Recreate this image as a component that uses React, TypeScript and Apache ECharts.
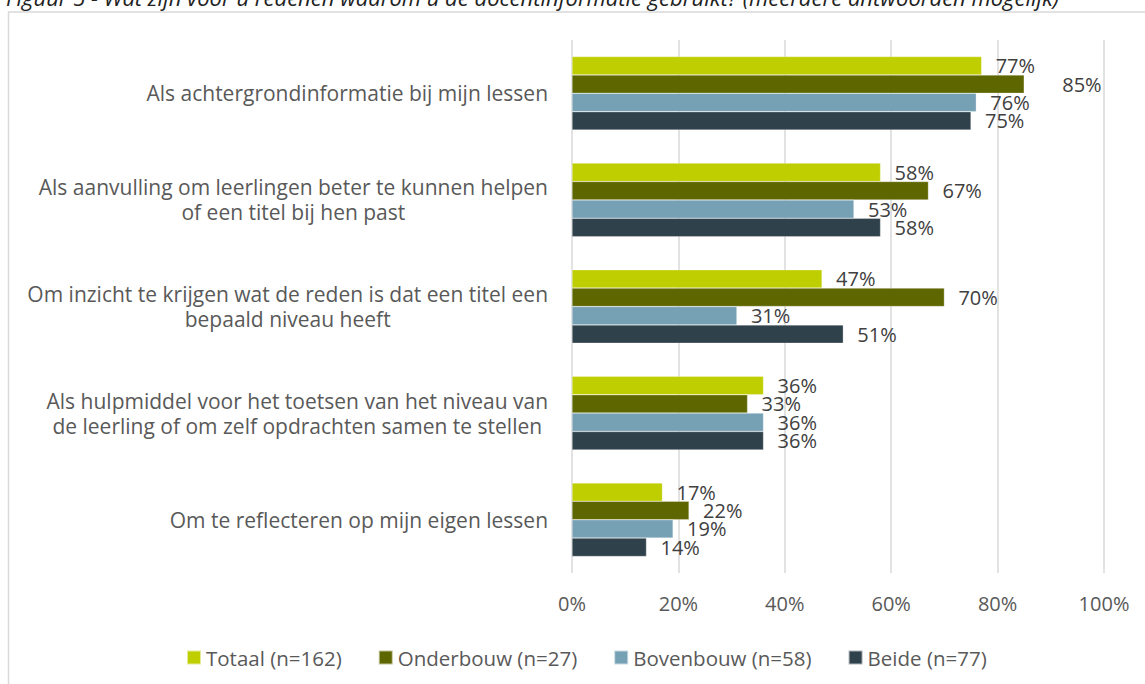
import React, { useEffect, useRef } from "react";
import * as echarts from "echarts";

const categories = [
  "Als achtergrondinformatie bij mijn lessen",
  "Als aanvulling om leerlingen beter te kunnen helpen\nof een titel bij hen past",
  "Om inzicht te krijgen wat de reden is dat een titel een\nbepaald niveau heeft",
  "Als hulpmiddel voor het toetsen van het niveau van\nde leerling of om zelf opdrachten samen te stellen",
  "Om te reflecteren op mijn eigen lessen",
];

const seriesNames = ["Totaal (n=162)", "Onderbouw (n=27)", "Bovenbouw (n=58)", "Beide (n=77)"];
const totaal = [77, 58, 47, 36, 17];
const onderbouw = [85, 67, 70, 33, 22];
const bovenbouw = [76, 53, 31, 36, 19];
const beide = [75, 58, 51, 36, 14];
const xTicks = [0, 20, 40, 60, 80, 100];

const title =
  "Figuur 5 - Wat zijn voor u redenen waarom u de docentinformatie gebruikt? (meerdere antwoorden mogelijk)";

const colors = ["#BFCE00", "#5E6600", "#76A1B5", "#2F414B"];
const FONT = "'Open Sans', 'Noto Sans', sans-serif";

export default function App() {
  const ref = useRef<HTMLDivElement>(null);
  useEffect(() => {
    if (!ref.current) return;
    const chart = echarts.init(ref.current, undefined, { renderer: "svg" });
    const values = [totaal, onderbouw, bovenbouw, beide];
    const option = {
      animation: false,
      backgroundColor: "#ffffff",
      textStyle: { fontFamily: FONT },
      graphic: [
        {
          type: "rect",
          shape: { x: 8.5, y: 12, width: 1160, height: 700 },
          style: { fill: "none", stroke: "#d9d9d9", lineWidth: 1.5 },
          silent: true,
        },
        {
          type: "text",
          x: 6,
          y: 8,
          style: {
            text: title,
            fontFamily: FONT,
            fontStyle: "italic",
            fontSize: 22,
            fill: "#222222",
            textVerticalAlign: "bottom",
          },
          silent: true,
        },
      ],
      legend: {
        data: seriesNames,
        left: 181,
        top: 642,
        icon: "rect",
        itemWidth: 14,
        itemHeight: 14,
        itemGap: 36,
        textStyle: { fontSize: 20.5, color: "#595959", fontFamily: FONT },
      },
      grid: { left: 572, right: 41, top: 40, bottom: 111, containLabel: false },
      xAxis: {
        type: "value",
        min: 0,
        max: 100,
        interval: 20,
        axisLine: { show: false },
        axisTick: { show: false },
        splitLine: { lineStyle: { color: "#d9d9d9", width: 1.5 } },
        axisLabel: {
          formatter: (v: number) => (xTicks.includes(v) ? v + "%" : ""),
          fontSize: 20,
          color: "#595959",
          margin: 20,
          fontFamily: FONT,
        },
      },
      yAxis: {
        type: "category",
        data: categories,
        inverse: true,
        axisLine: { show: false },
        axisTick: { show: false },
        axisLabel: {
          margin: 24,
          formatter: (v: string) =>
            v
              .split("\n")
              .map((l) => "{c|" + l + "}")
              .join("\n"),
          rich: {
            c: {
              align: "center",
              fontSize: 21,
              lineHeight: 25,
              color: "#595959",
              fontFamily: FONT,
            },
          },
        },
      },
      series: seriesNames.map((name, si) => ({
        name,
        type: "bar",
        barGap: "0%",
        barCategoryGap: "31%",
        itemStyle: { color: colors[si], borderColor: "rgba(255,255,255,0.6)", borderWidth: 0.5 },
        label: {
          show: true,
          position: "right",
          distance: 14,
          formatter: "{c}%",
          fontSize: 20,
          color: "#404040",
          fontFamily: FONT,
        },
        data: values[si].map((v, i) =>
          si === 1 && i === 0 ? { value: v, label: { offset: [24, 0] } } : v
        ),
      })),
    };
    chart.setOption(option as any);
    return () => chart.dispose();
  }, []);
  return (
    <div
      ref={ref}
      style={{ position: "fixed", left: 0, top: 0, width: 1145, height: 684 }}
    />
  );
}
